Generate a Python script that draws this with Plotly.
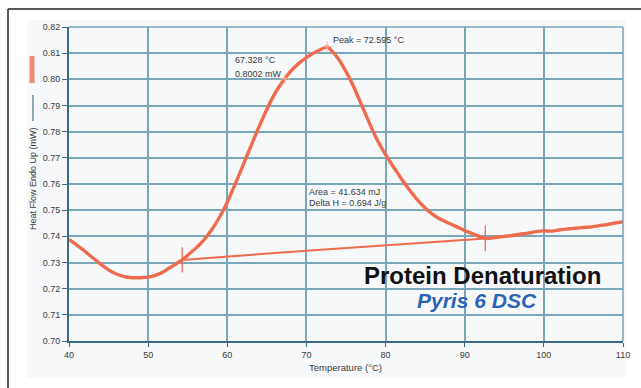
import plotly.graph_objects as go

# DSC scan of a protein solution: heat flow vs temperature
temperature_c = [40, 41, 42, 43, 44, 45, 46, 47, 48, 49, 50, 51, 52, 53, 54.3,
                 55, 56, 57, 58, 59, 60, 61, 62, 63, 64, 65, 66, 67, 68, 69,
                 70, 71, 72, 72.6, 73, 74, 75, 76, 77, 78, 79, 80, 81, 82, 83,
                 84, 85, 86, 87, 88, 89, 90, 91, 92.6, 94, 95, 96, 97, 98, 99,
                 100, 101, 102, 103, 104, 105, 106, 107, 108, 109, 110]
heat_flow_mw = [0.7388, 0.7366, 0.7343, 0.7318, 0.7294, 0.7272, 0.7256, 0.7246,
                0.7242, 0.7242, 0.7244, 0.7252, 0.7266, 0.7285, 0.7310,
                0.7328, 0.7354, 0.7385, 0.7424, 0.7472, 0.7530, 0.7600, 0.7672,
                0.7746, 0.7818, 0.7885, 0.7945, 0.7992, 0.8030, 0.8060,
                0.8083, 0.8102, 0.8117, 0.8125, 0.8115, 0.8080, 0.8030, 0.7970,
                0.7900, 0.7830, 0.7765, 0.7712, 0.7665, 0.7620, 0.7578,
                0.7540, 0.7508, 0.7483, 0.7464, 0.7450, 0.7436, 0.7422, 0.7410,
                0.7392, 0.7396, 0.7400, 0.7403, 0.7408, 0.7412, 0.7418,
                0.7421, 0.7420, 0.7425, 0.7428, 0.7431, 0.7434, 0.7436, 0.7441,
                0.7445, 0.7451, 0.7456]

# Interpolated baseline between onset and end of the transition
baseline_t = [54.3, 70, 92.6]
baseline_v = [0.7310, 0.7345, 0.7392]

# Points picked on the curve
onset_end_t = [54.3, 92.6]
onset_end_v = [0.7310, 0.7392]
peak_t = [72.6]
peak_v = [0.8125]
cursor_t = [67.3]
cursor_v = [0.8002]

x_ticks = [40, 50, 60, 70, 80, 90, 100, 110]
y_ticks = [0.70, 0.71, 0.72, 0.73, 0.74, 0.75, 0.76, 0.77, 0.78, 0.79, 0.80, 0.81, 0.82]

CURVE = "#ef6b4e"
GRID = "#7aa6ba"
AXIS = "#3b6b82"
TEXT = "#3a3a3a"
FONT = "Liberation Sans, Arial, sans-serif"

W, H = 641, 388
ML, MR, MT, MB = 69, 18, 27, 47
PW, PH = W - ML - MR, H - MT - MB


def px(x):
    return (x - ML) / PW


def py(y):
    return (H - MB - y) / PH


fig = go.Figure()

fig.add_trace(go.Scatter(x=baseline_t, y=baseline_v, mode="lines",
                         line=dict(color=CURVE, width=2), hoverinfo="skip"))
fig.add_trace(go.Scatter(x=temperature_c, y=heat_flow_mw, mode="lines",
                         line=dict(color=CURVE, width=3.4, shape="spline", smoothing=0.5),
                         hoverinfo="skip"))
fig.add_trace(go.Scatter(x=onset_end_t, y=onset_end_v, mode="markers",
                         marker=dict(symbol="line-ns", size=18,
                                     line=dict(color=CURVE, width=1.3)),
                         hoverinfo="skip"))
fig.add_trace(go.Scatter(x=peak_t + cursor_t, y=peak_v + cursor_v, mode="markers",
                         marker=dict(symbol="cross-thin", size=7,
                                     line=dict(color="#f5b3a4", width=1)),
                         hoverinfo="skip"))

small = dict(family=FONT, size=9, color=TEXT)
annotations = [
    dict(x=73.1, y=0.8152, text="Peak = 72.595 °C"),
    dict(x=60.7, y=0.8072, text="67.328 °C"),
    dict(x=60.7, y=0.8019, text="0.8002 mW"),
    dict(x=70.05, y=0.7570, text="Area = 41.634 mJ"),
    dict(x=70.05, y=0.7526, text="Delta H = 0.694 J/g"),
]
for a in annotations:
    fig.add_annotation(xref="x", yref="y", showarrow=False, xanchor="left",
                       yanchor="middle", font=small, **a)

fig.add_annotation(xref="x", yref="y", x=92.2, y=0.7252, showarrow=False,
                   xanchor="center", yanchor="middle",
                   text="<b>Protein Denaturation</b>",
                   font=dict(family=FONT, size=24, color="#111111"))
fig.add_annotation(xref="x", yref="y", x=91.6, y=0.7156, showarrow=False,
                   xanchor="center", yanchor="middle",
                   text="<b><i>Pyris 6 DSC</i></b>",
                   font=dict(family=FONT, size=21, color="#2a63b8"))

# axis titles
fig.add_annotation(xref="paper", yref="paper", x=px(345), y=py(367), showarrow=False,
                   xanchor="center", yanchor="middle",
                   text="Temperature (°C)", font=dict(family=FONT, size=9.5, color=TEXT))
fig.add_annotation(xref="paper", yref="paper", x=px(33), y=py(179), showarrow=False,
                   xanchor="center", yanchor="middle",
                   text="Heat Flow Endo Up (mW)", textangle=-90, font=small)

shapes = [
    # faint panel behind the chart
    dict(type="rect", xref="paper", yref="paper", x0=px(27), x1=px(626),
         y0=py(378), y1=py(20), fillcolor="#f7f8f9", line=dict(width=0), layer="below"),
    # outer frame
    dict(type="line", xref="paper", yref="paper", x0=px(8), x1=px(8),
         y0=py(9), y1=py(400), line=dict(color="#222222", width=1.5)),
    dict(type="line", xref="paper", yref="paper", x0=px(8), x1=px(660),
         y0=py(9), y1=py(9), line=dict(color="#222222", width=1.5)),
    # series keys beside the y title
    dict(type="line", xref="paper", yref="paper", x0=px(33), x1=px(33),
         y0=py(95), y1=py(121), line=dict(color="#2d5a70", width=1)),
    dict(type="line", xref="paper", yref="paper", x0=px(32), x1=px(32),
         y0=py(56), y1=py(83), line=dict(color="#f08a76", width=5)),
    # plot frame top and right
    dict(type="line", xref="paper", yref="paper", x0=0, x1=1, y0=1, y1=1,
         line=dict(color=GRID, width=1.5)),
    dict(type="line", xref="paper", yref="paper", x0=1, x1=1, y0=0, y1=1,
         line=dict(color=GRID, width=1.5)),
]

fig.update_layout(
    width=W, height=H,
    margin=dict(l=ML, r=MR, t=MT, b=MB, pad=0),
    paper_bgcolor="white", plot_bgcolor="white",
    showlegend=False,
    shapes=shapes,
    xaxis=dict(range=[40, 110], tickvals=x_ticks, ticktext=[str(t) for t in x_ticks],
               showgrid=True, gridcolor=GRID, gridwidth=1.5, zeroline=False,
               showline=True, linecolor=AXIS, linewidth=2,
               ticks="outside", ticklen=4, tickcolor=AXIS, tickwidth=1,
               tickfont=dict(family=FONT, size=9, color=TEXT)),
    yaxis=dict(range=[0.70, 0.82], tickvals=y_ticks,
               ticktext=[f"{t:.2f}" for t in y_ticks],
               showgrid=True, gridcolor=GRID, gridwidth=1.5, zeroline=False,
               showline=True, linecolor=AXIS, linewidth=2,
               ticks="outside", ticklen=5, tickcolor=AXIS, tickwidth=1,
               tickfont=dict(family=FONT, size=9, color=TEXT)),
)

fig.write_html("out.html")
